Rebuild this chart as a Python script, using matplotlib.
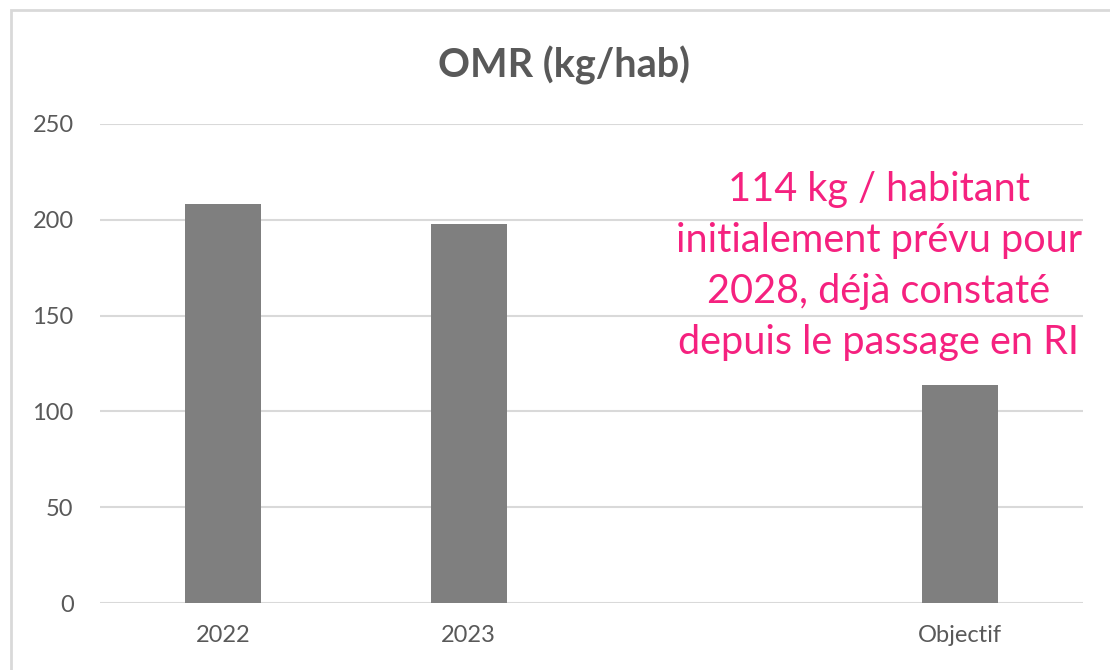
import matplotlib.pyplot as plt
from matplotlib.patches import Rectangle

categories = ["2022", "2023", "", "Objectif"]
values = [208, 198, None, 114]
yticks = [0, 50, 100, 150, 200, 250]
title = "OMR (kg/hab)"
note = "114 kg / habitant\ninitialement prévu pour\n2028, déjà constaté\ndepuis le passage en RI"

W, H = 1110, 670
fig = plt.figure(figsize=(W / 100, H / 100), dpi=100)
plt.rcParams['font.family'] = ['Lato', 'DejaVu Sans']

# cadre gris clair (seulement haut et gauche visibles)
fig.patches.append(Rectangle((11 / W, -0.1), 1.2, (H - 10) / H + 0.1, transform=fig.transFigure,
                             fill=False, edgecolor='#D9D9D9', linewidth=2))

ax = fig.add_axes([100 / W, 1 - 603 / H, (1083 - 100) / W, (603 - 124) / H])
x = range(len(categories))
for i, v in enumerate(values):
    if v is not None:
        ax.bar(i, v, width=0.31, color='#7F7F7F', zorder=3)

ax.set_xlim(-0.5, len(categories) - 0.5)
ax.set_ylim(0, 250)
ax.set_yticks(yticks)
ax.set_xticks(list(x))
ax.set_xticklabels(categories)
ax.grid(axis='y', color='#D9D9D9', linewidth=1.5, zorder=0)
for s in ax.spines.values():
    s.set_visible(False)
ax.tick_params(length=0, labelsize=17, labelcolor='#595959')
ax.tick_params(axis='y', pad=19)
ax.tick_params(axis='x', pad=16)

fig.text(564 / W, 1 - 65 / H, title, ha='center', va='center', fontsize=28.5,
         fontweight='bold', color='#595959')

fig.text(879 / W, 1 - 266 / H, note, ha='center', va='center', fontsize=28.5,
         color='#F5217F', linespacing=1.46)

fig.savefig("out.png", dpi=100)
